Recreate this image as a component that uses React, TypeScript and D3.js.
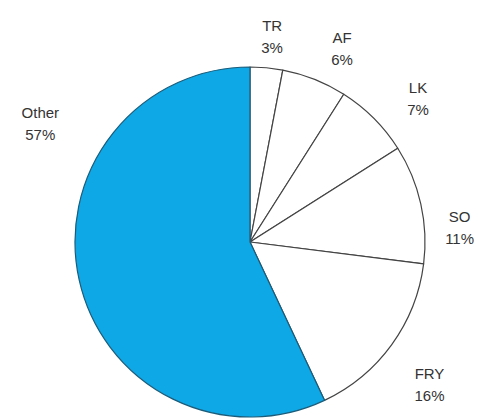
import React from "react";
import * as d3 from "d3";

const categories = ["TR", "AF", "LK", "SO", "FRY", "Other"];
const values = [3, 6, 7, 11, 16, 57];
const labels = ["3%", "6%", "7%", "11%", "16%", "57%"];

// label placement (layout, not data): angle in degrees clockwise from top, radius in px
const labelAngleDeg = [6.2, 25.6, 49.8, 86.5, 128.7, 299.1];
const labelRadius = [205, 213, 220, 210, 230, 240];

const W = 478;
const H = 418;
const cx = 250;
const cy = 242;
const R = 175;

export default function App() {
  const pie = d3.pie<number>().sort(null).value((d) => d);
  const arcs = pie(values);
  const arc = d3.arc<d3.PieArcDatum<number>>().innerRadius(0).outerRadius(R);
  const fills = categories.map((c) => (c === "Other" ? "#0fa8e6" : "#ffffff"));

  return (
    <svg
      width={W}
      height={H}
      style={{ position: "absolute", left: 0, top: 0, background: "#fff" }}
      fontFamily="'Liberation Sans', Arial, sans-serif"
    >
      <g transform={`translate(${cx},${cy})`}>
        {arcs.map((a, i) => (
          <path
            key={categories[i]}
            d={arc(a) || ""}
            fill={fills[i]}
            stroke={categories[i] === "Other" ? "#1a5c7a" : "#444"}
            strokeWidth={1.2}
            strokeLinejoin="round"
          />
        ))}
        {arcs.map((a, i) => {
          const ang = (labelAngleDeg[i] * Math.PI) / 180;
          const x = Math.sin(ang) * labelRadius[i];
          const y = -Math.cos(ang) * labelRadius[i];
          return (
            <g key={"l" + categories[i]} fill="#333" fontSize={15} textAnchor="middle">
              <text x={x} y={y - 11} dominantBaseline="middle">
                {categories[i]}
              </text>
              <text x={x} y={y + 11} dominantBaseline="middle">
                {labels[i]}
              </text>
            </g>
          );
        })}
      </g>
    </svg>
  );
}
